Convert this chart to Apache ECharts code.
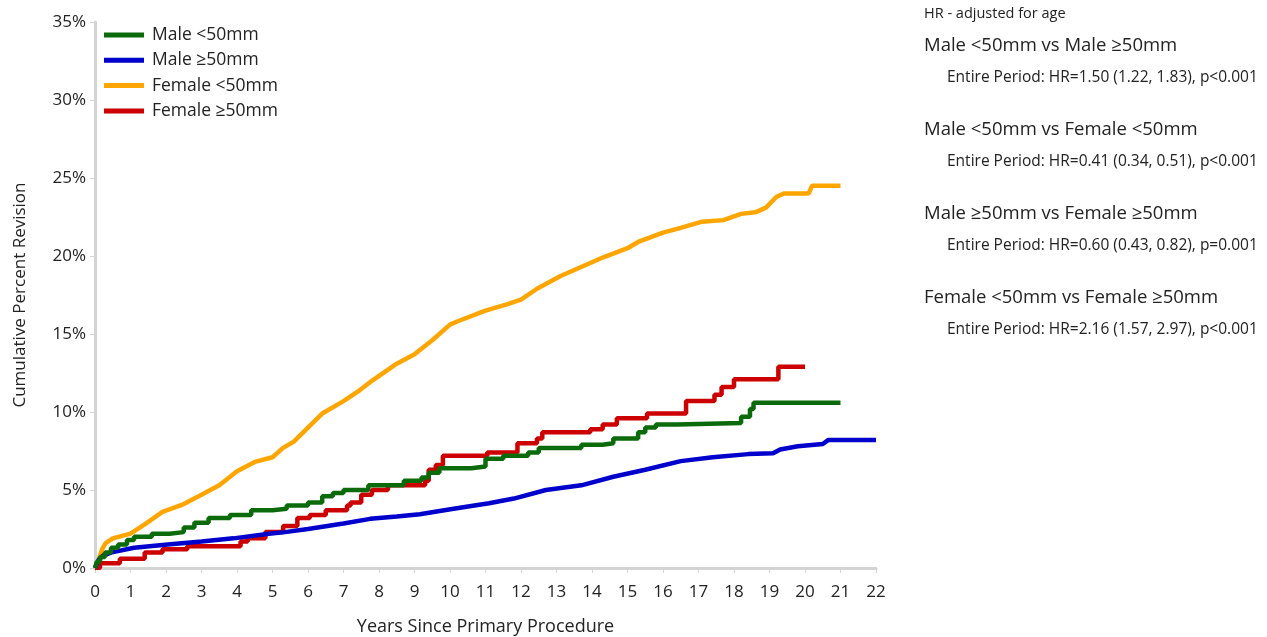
<!DOCTYPE html>
<html>
<head>
<meta charset="utf-8">
<script src="https://cdn.jsdelivr.net/npm/echarts@6/dist/echarts.min.js"></script>
<style>
html,body{margin:0;padding:0;background:#fff;}
#chart{width:1267px;height:637px;}
</style>
</head>
<body>
<div id="chart"></div>
<script>
// ---- data (years, cumulative percent revision) ----
const seriesNames = ['Male <50mm', 'Male \u226550mm', 'Female <50mm', 'Female \u226550mm'];
const seriesColors = ['#0b6b0b', '#0000cc', '#ffa500', '#cc0000'];

// step series: [time of jump, new value]
const maleLt50 = [
  [0,0],[0.05,0.4],[0.14,0.7],[0.28,1.0],[0.45,1.3],[0.65,1.5],[0.9,1.8],[1.1,2.0],[1.6,2.2],[2.1,2.3],
  [2.5,2.6],[2.8,2.9],[3.2,3.2],[3.8,3.4],[4.4,3.7],[5.0,3.8],[5.4,4.0],[6.0,4.2],[6.4,4.6],[6.7,4.8],
  [7.0,5.0],[7.7,5.3],[8.7,5.6],[9.2,5.8],[9.4,6.1],[9.7,6.4],[10.6,6.5],[11.0,7.0],[11.5,7.2],[12.2,7.4],
  [12.5,7.7],[13.7,7.9],[14.3,8.0],[14.6,8.3],[15.3,8.7],[15.5,9.0],[15.8,9.2],[16.4,9.3],[18.2,9.7],
  [18.45,10.2],[18.55,10.6],[21.0,10.6]
];
const maleGe50 = [
  [0,0],[0.1,0.5],[0.23,0.8],[0.47,1.0],[1.1,1.3],[2.05,1.5],[3.0,1.7],[3.9,1.9],[4.9,2.2],[5.35,2.3],
  [6.0,2.5],[7.0,2.85],[7.75,3.15],[8.5,3.3],[9.15,3.45],[10.1,3.8],[11.1,4.15],[11.8,4.45],[12.7,5.0],
  [13.7,5.3],[14.6,5.85],[15.5,6.3],[16.5,6.85],[17.4,7.1],[18.4,7.3],[19.1,7.35],[19.3,7.6],[19.8,7.8],
  [20.5,7.95],[20.65,8.2],[22.0,8.2]
];
const femaleLt50 = [
  [0,0],[0.1,0.5],[0.2,1.2],[0.3,1.6],[0.5,1.9],[1.0,2.2],[1.4,2.8],[1.9,3.6],[2.5,4.1],[3.0,4.7],
  [3.5,5.3],[4.0,6.2],[4.5,6.8],[5.0,7.1],[5.3,7.7],[5.6,8.1],[6.0,9.0],[6.4,9.9],[7.0,10.7],[7.4,11.3],
  [7.8,12.0],[8.5,13.1],[9.0,13.7],[9.5,14.6],[10.0,15.6],[10.2,15.8],[11.0,16.5],[11.6,16.9],[12.0,17.2],
  [12.45,17.9],[13.1,18.7],[14.0,19.6],[14.3,19.9],[15.0,20.5],[15.3,20.9],[16.0,21.5],[16.5,21.8],
  [17.1,22.2],[17.7,22.3],[18.2,22.7],[18.6,22.8],[18.9,23.1],[19.2,23.8],[19.4,24.0],[20.1,24.0],
  [20.2,24.5],[21.0,24.5]
];
const femaleGe50 = [
  [0,0],[0.14,0.3],[0.7,0.6],[1.4,1.0],[1.9,1.2],[2.6,1.4],[4.1,1.7],[4.3,1.9],[4.8,2.3],[5.3,2.7],
  [5.7,3.2],[6.05,3.4],[6.5,3.7],[7.1,4.0],[7.2,4.2],[7.5,4.7],[7.8,5.0],[8.25,5.3],[9.3,5.6],[9.4,6.3],
  [9.6,6.6],[9.8,7.2],[11.05,7.4],[11.9,8.0],[12.45,8.3],[12.6,8.7],[13.95,8.9],[14.3,9.2],[14.7,9.6],
  [15.55,9.9],[16.65,10.7],[17.45,11.1],[17.65,11.6],[18.0,12.1],[19.25,12.9],[20.0,12.9]
];

const hrHeader = 'HR - adjusted for age';
const hrTitles = ['Male <50mm vs Male \u226550mm', 'Male <50mm vs Female <50mm', 'Male \u226550mm vs Female \u226550mm', 'Female <50mm vs Female \u226550mm'];
const hrValues = ['Entire Period: HR=1.50 (1.22, 1.83), p<0.001', 'Entire Period: HR=0.41 (0.34, 0.51), p<0.001', 'Entire Period: HR=0.60 (0.43, 0.82), p=0.001', 'Entire Period: HR=2.16 (1.57, 2.97), p<0.001'];

const FONT = '"Open Sans", "Noto Sans", sans-serif';
const chart = echarts.init(document.getElementById('chart'), null, {renderer: 'canvas'});

const allData = [maleLt50, maleGe50, femaleLt50, femaleGe50];
const stepFlags = [true, false, false, true];

const graphics = [
  {type:'text', x: 924, y: 14, style:{text: hrHeader, font: '14.5px ' + FONT, fill:'#222', verticalAlign:'middle', align:'left'}}
];
hrTitles.forEach((t, i) => {
  graphics.push({type:'text', x: 924, y: 46 + i*84, style:{text: t, font: '18.5px ' + FONT, fill:'#222', verticalAlign:'middle', align:'left'}});
  graphics.push({type:'text', x: 947, y: 78 + i*84, style:{text: hrValues[i], font: '15.5px ' + FONT, fill:'#222', verticalAlign:'middle', align:'left'}});
});

chart.setOption({
  animation: false,
  backgroundColor: '#fff',
  textStyle: {fontFamily: FONT},
  grid: {left: 95, right: 391, top: 22, bottom: 69, containLabel: false, outerBoundsMode: 'none'},
  legend: {
    orient: 'vertical', left: 99, top: 20, itemWidth: 40, itemHeight: 5, itemGap: 5.3,
    icon: 'rect',
    data: seriesNames,
    textStyle: {fontSize: 17.5, color: '#222', fontFamily: FONT, lineHeight: 20, padding: [0,0,0,3]}
  },
  xAxis: {
    type: 'value', min: 0, max: 22, interval: 1,
    name: 'Years Since Primary Procedure', nameLocation: 'middle', nameGap: 50,
    nameTextStyle: {fontSize: 18, color: '#222', fontFamily: FONT},
    axisLine: {show: true, onZero: false, lineStyle: {color: '#d4d4d4', width: 3}},
    axisTick: {show: true, length: 5, lineStyle: {color: '#d4d4d4', width: 1}},
    axisLabel: {fontSize: 17, color: '#222', margin: 16, fontFamily: FONT},
    splitLine: {show: false}
  },
  yAxis: {
    type: 'value', min: 0, max: 35, interval: 5,
    name: 'Cumulative Percent Revision', nameLocation: 'middle', nameGap: 66,
    nameTextStyle: {fontSize: 17, color: '#222', fontFamily: FONT},
    axisLine: {show: true, lineStyle: {color: '#d4d4d4', width: 3}},
    axisTick: {show: true, length: 5, lineStyle: {color: '#d4d4d4', width: 1}},
    axisLabel: {fontSize: 17, color: '#222', margin: 9, formatter: '{value}%', fontFamily: FONT},
    splitLine: {show: false}
  },
  series: allData.map((d, i) => ({
    name: seriesNames[i],
    type: 'line',
    data: d,
    step: stepFlags[i] ? 'end' : false,
    showSymbol: false,
    symbol: 'none',
    color: seriesColors[i],
    lineStyle: {width: 4.5, color: seriesColors[i]},
    z: 2 + (3 - i)
  })),
  graphic: graphics
});
</script>
</body>
</html>
